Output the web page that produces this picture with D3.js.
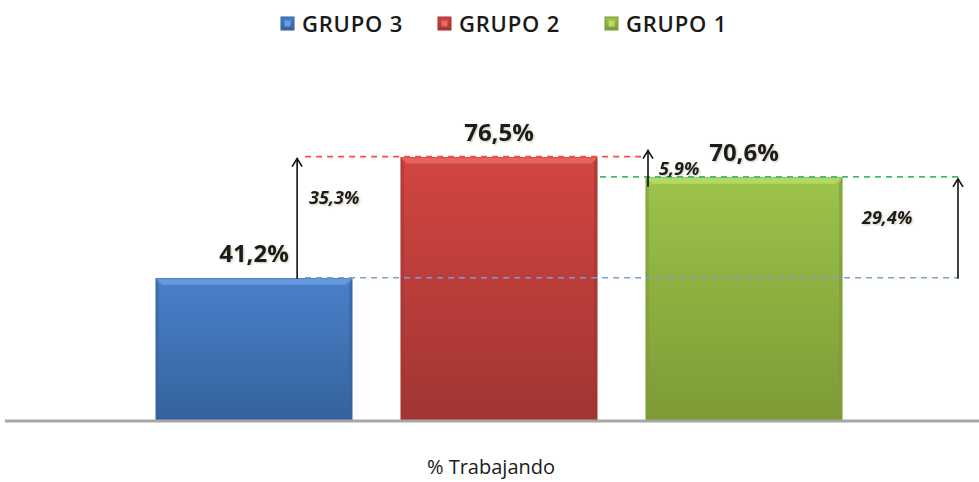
<!DOCTYPE html>
<html>
<head>
<meta charset="utf-8">
<script src="https://cdn.jsdelivr.net/npm/d3@7"></script>
<style>
  body { margin: 0; background: #fff; }
  text { font-family: "Open Sans", "Liberation Sans", sans-serif; fill: #1a1a1a; }
</style>
</head>
<body>
<div id="chart"></div>
<script>
// data
var groups = ["GRUPO 3", "GRUPO 2", "GRUPO 1"];
var values = [41.2, 76.5, 70.6];
var barColors = ["#4a80c9", "#d24541", "#9cc34a"];
var darkColors = ["#35629e", "#a13532", "#7c9b36"];
var lightColors = ["#6a9ee0", "#e86a66", "#b6dc6a"];
var dashColors = ["#7b9fcf", "#ff4a4a", "#3fbf6a"];
var diffLabels = ["35,3%", "5,9%", "29,4%"];
var axisTitle = "% Trabajando";

var svgWidth = 979;
var svgHeight = 482;

var fmt = d3.formatLocale({ decimal: ",", thousands: ".", grouping: [3], currency: ["", "€"] }).format(".1f");

var svg = d3.select("#chart")
  .append("svg")
  .attr("width", svgWidth)
  .attr("height", svgHeight);

var defs = svg.append("defs");

// gradients for the bars
groups.forEach(function(g, i) {
  var grad = defs.append("linearGradient")
    .attr("id", "grad" + i)
    .attr("x1", 0).attr("y1", 0).attr("x2", 0).attr("y2", 1);
  grad.append("stop").attr("offset", "0%").attr("stop-color", barColors[i]);
  grad.append("stop").attr("offset", "100%").attr("stop-color", darkColors[i]);
});

var shadow = defs.append("filter").attr("id", "glow")
  .attr("x", "-20%").attr("y", "-20%").attr("width", "140%").attr("height", "140%");
shadow.append("feDropShadow")
  .attr("dx", 1).attr("dy", 1).attr("stdDeviation", 1.2)
  .attr("flood-color", "#8a7a50").attr("flood-opacity", 0.45);

//scales
var xScale = d3.scaleBand()
  .domain(groups)
  .range([107, 891])
  .paddingInner(0.2)
  .paddingOuter(0.2);

var yScale = d3.scaleLinear()
  .domain([0, 100])
  .range([420, 77]);

var bw = xScale.bandwidth();

// bars
var bars = svg.selectAll("g.bar")
  .data(groups)
  .enter()
  .append("g")
  .attr("class", "bar");

bars.append("rect")
  .attr("x", d => xScale(d))
  .attr("y", (d, i) => yScale(values[i]))
  .attr("width", bw)
  .attr("height", (d, i) => yScale(0) - yScale(values[i]))
  .attr("fill", (d, i) => "url(#grad" + i + ")")
  .attr("stroke", (d, i) => darkColors[i])
  .attr("stroke-width", 1);

// bevel: top light strip, side dark strips
var bev = 6;
bars.append("path")
  .attr("d", function(d, i) {
    var x0 = xScale(d), x1 = x0 + bw, y0 = yScale(values[i]);
    return `M${x0},${y0} L${x1},${y0} L${x1 - bev},${y0 + bev} L${x0 + bev},${y0 + bev} Z`;
  })
  .attr("fill", (d, i) => lightColors[i])
  .attr("opacity", 0.85);

bars.append("path")
  .attr("d", function(d, i) {
    var x0 = xScale(d), y0 = yScale(values[i]), y1 = yScale(0);
    return `M${x0},${y0} L${x0 + bev / 2},${y0 + bev} L${x0 + bev / 2},${y1} L${x0},${y1} Z`;
  })
  .attr("fill", (d, i) => darkColors[i])
  .attr("opacity", 0.5);

bars.append("path")
  .attr("d", function(d, i) {
    var x1 = xScale(d) + bw, y0 = yScale(values[i]), y1 = yScale(0);
    return `M${x1},${y0} L${x1 - bev / 2},${y0 + bev} L${x1 - bev / 2},${y1} L${x1},${y1} Z`;
  })
  .attr("fill", (d, i) => darkColors[i])
  .attr("opacity", 0.6);

// axis line
svg.append("line")
  .attr("x1", 5).attr("x2", 979)
  .attr("y1", yScale(0) + 1).attr("y2", yScale(0) + 1)
  .attr("stroke", "#a6a6a6")
  .attr("stroke-width", 3);

// value labels
bars.append("text")
  .attr("x", d => xScale(d) + bw / 2)
  .attr("y", (d, i) => yScale(values[i]) - 17)
  .attr("text-anchor", "middle")
  .attr("font-size", 24)
  .attr("font-weight", "bold")
  .attr("filter", "url(#glow)")
  .text((d, i) => fmt(values[i]) + "%");

// dashed reference lines
var i3 = 0, i2 = 1, i1 = 2;
var arrow1X = xScale(groups[i3]) + bw * 0.72;
var arrow2X = xScale(groups[i1]) + 2;
var arrow3X = xScale(groups[i1]) + bw + 116;

var dashes = [
  { v: values[i2], x1: arrow1X + 8, x2: arrow2X - 2, c: dashColors[1] },
  { v: values[i3], x1: arrow1X + 8, x2: arrow3X, c: dashColors[0] },
  { v: values[i1], x1: xScale(groups[i1]) - 46, x2: arrow3X, c: dashColors[2] }
];

svg.selectAll("line.dash")
  .data(dashes)
  .enter()
  .append("line")
  .attr("class", "dash")
  .attr("x1", d => d.x1).attr("x2", d => d.x2)
  .attr("y1", d => yScale(d.v) - 1).attr("y2", d => yScale(d.v) - 1)
  .attr("stroke", d => d.c)
  .attr("stroke-width", 1.6)
  .attr("stroke-dasharray", "6,5");

// arrows
var arrows = [
  { x: arrow1X, from: yScale(values[i3]), to: yScale(values[i2]) + 1 },
  { x: arrow2X, from: yScale(values[i1]) + 9, to: yScale(values[i2]) - 7 },
  { x: arrow3X, from: yScale(values[i3]), to: yScale(values[i1]) + 1 }
];

var arr = svg.selectAll("g.arrow")
  .data(arrows)
  .enter()
  .append("g")
  .attr("class", "arrow");

arr.append("line")
  .attr("x1", d => d.x).attr("x2", d => d.x)
  .attr("y1", d => d.from).attr("y2", d => d.to)
  .attr("stroke", "#111")
  .attr("stroke-width", 1.6);

arr.append("path")
  .attr("d", d => `M${d.x - 5},${d.to + 8} L${d.x},${d.to} L${d.x + 5},${d.to + 8}`)
  .attr("fill", "none")
  .attr("stroke", "#111")
  .attr("stroke-width", 1.6);

// difference labels
var diffPos = [
  { x: arrow1X + 12, y: 204 },
  { x: arrow2X + 11, y: 175 },
  { x: xScale(groups[i1]) + bw + 20, y: 224 }
];

svg.selectAll("text.diff")
  .data(diffLabels)
  .enter()
  .append("text")
  .attr("class", "diff")
  .attr("x", (d, i) => diffPos[i].x)
  .attr("y", (d, i) => diffPos[i].y)
  .attr("font-size", 18)
  .attr("font-weight", "bold")
  .attr("font-style", "italic")
  .attr("filter", "url(#glow)")
  .text(d => d);

// legend
var legendX = [281, 438, 605];
var legend = svg.selectAll("g.legend")
  .data(groups)
  .enter()
  .append("g")
  .attr("class", "legend")
  .attr("transform", (d, i) => `translate(${legendX[i]}, 17)`);

legend.append("rect")
  .attr("width", 13).attr("height", 13)
  .attr("fill", (d, i) => "url(#grad" + i + ")")
  .attr("stroke", (d, i) => darkColors[i])
  .attr("stroke-width", 1);

legend.append("rect")
  .attr("x", 3.5).attr("y", 3.5)
  .attr("width", 6).attr("height", 6)
  .attr("fill", (d, i) => lightColors[i]);

legend.append("text")
  .attr("x", 21)
  .attr("y", 15)
  .attr("font-size", 22)
  .attr("font-weight", 600)
  .attr("letter-spacing", 0.8)
  .attr("fill", "#262a36")
  .text(d => d);

// axis title
svg.append("text")
  .attr("x", 491)
  .attr("y", 474)
  .attr("text-anchor", "middle")
  .attr("font-size", 20)
  .attr("fill", "#262a36")
  .text(axisTitle);
</script>
</body>
</html>
